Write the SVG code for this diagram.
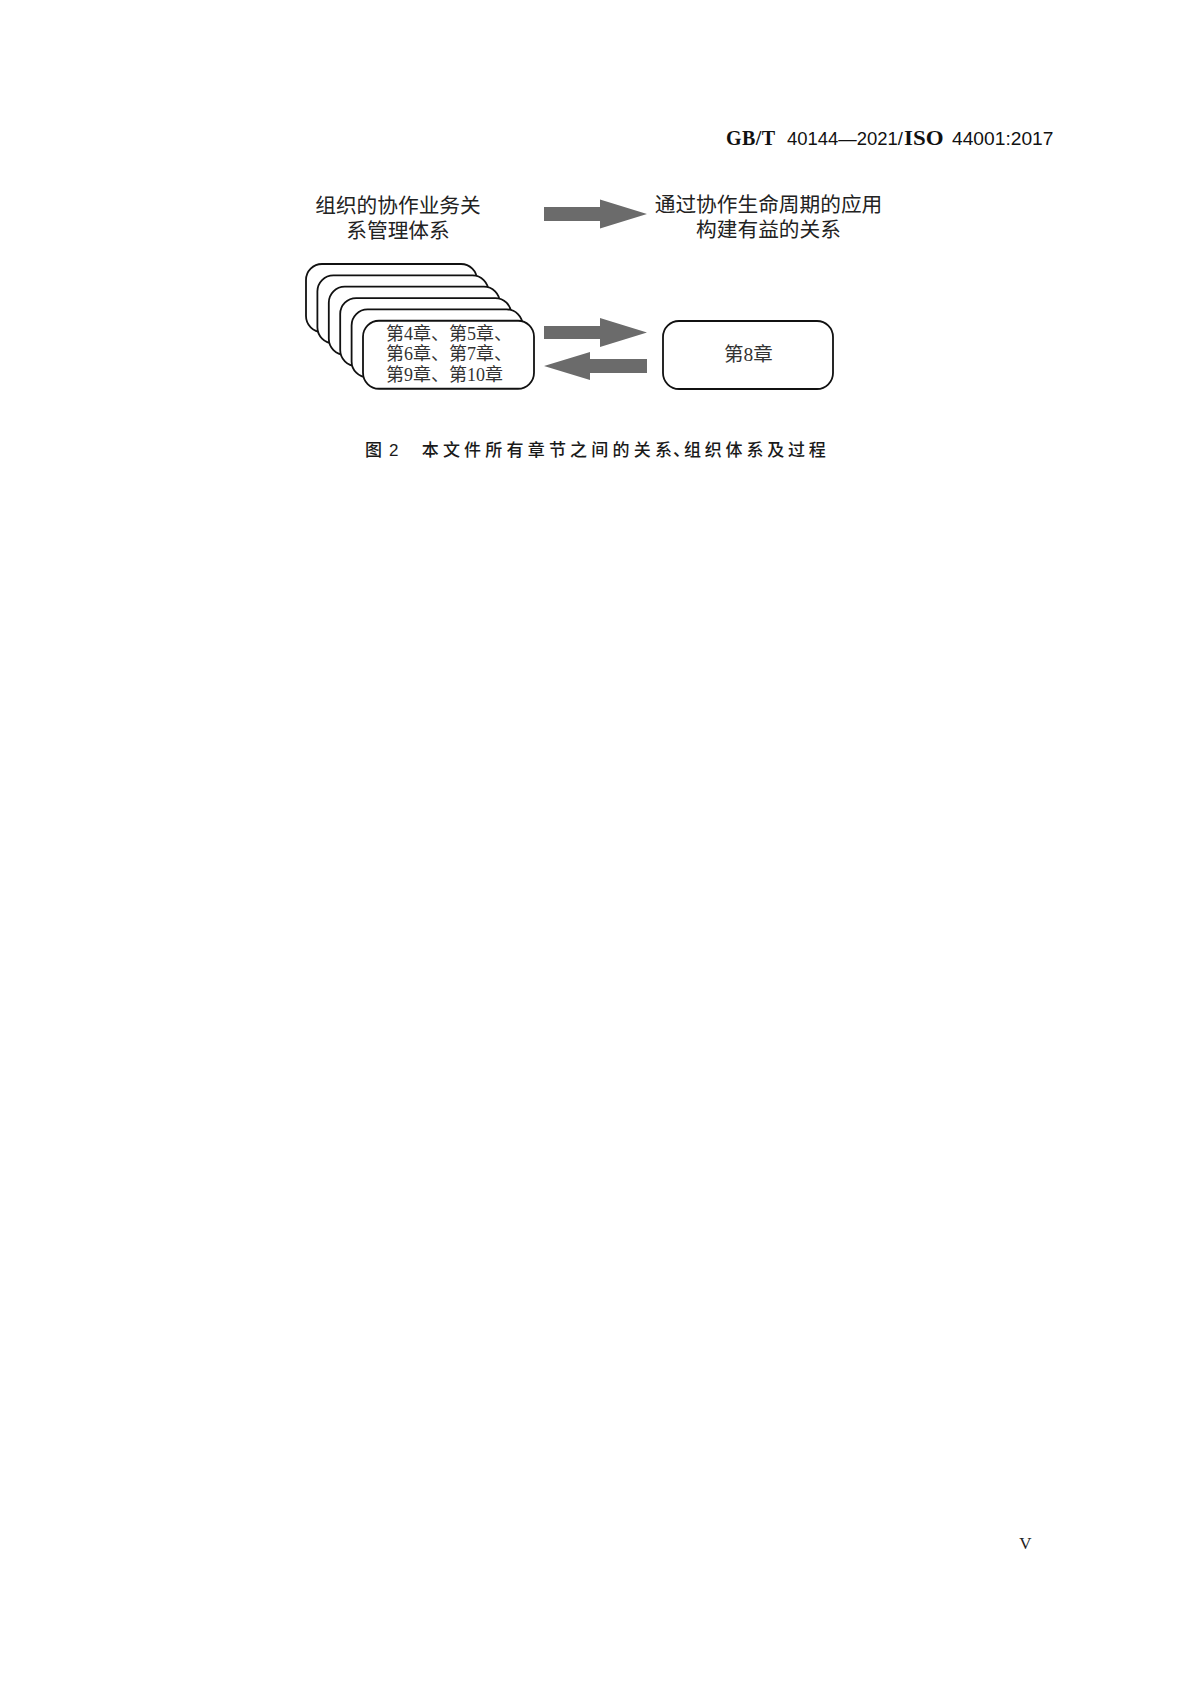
<svg xmlns="http://www.w3.org/2000/svg" width="1191" height="1684" viewBox="0 0 1191 1684">
<style>
.bg{fill:#ffffff}
.box{fill:#ffffff;stroke:#111111;stroke-width:1.8}
.arrow{fill:#6b6b6b;stroke:none}
.cjk{font-family:"Liberation Sans","Noto Sans CJK SC",sans-serif;fill:#222222}
.mix{font-family:"Liberation Serif","Noto Sans CJK SC",serif;fill:#333333}
.lbl{font-size:20.7px;text-anchor:middle}
.cap{font-family:"Liberation Sans","Noto Sans CJK SC",sans-serif;font-size:17px;font-weight:500;fill:#1a1a1a}
.hdrB{font-family:"Liberation Serif",serif;font-weight:bold;font-size:20px;fill:#111111}
.hdrN{font-family:"Liberation Sans",sans-serif;font-size:19px;fill:#111111}
</style>
<rect class="bg" x="0" y="0" width="1191" height="1684"/>

<g id="header">
<text class="hdrB" x="726" y="145" textLength="49" lengthAdjust="spacing">GB/T</text>
<text class="hdrN" x="787" y="145" textLength="116" lengthAdjust="spacingAndGlyphs">40144—2021/</text>
<text class="hdrB" x="904" y="145" textLength="39.5" lengthAdjust="spacingAndGlyphs">ISO</text>
<text class="hdrN" x="952" y="145" textLength="101.5" lengthAdjust="spacingAndGlyphs">44001:2017</text>
</g>

<g id="label-org-system">
<text class="cjk lbl" x="398" y="212.5">组织的协作业务关</text>
<text class="cjk lbl" x="398" y="237.5">系管理体系</text>
</g>

<g id="label-lifecycle">
<text class="cjk lbl" x="768.5" y="212">通过协作生命周期的应用</text>
<text class="cjk lbl" x="768.5" y="237">构建有益的关系</text>
</g>

<g id="node-chapters-stack">
<rect class="box" x="306" y="264" width="171" height="68" rx="16" ry="16"/>
<rect class="box" x="317.4" y="275.35" width="171" height="68" rx="16" ry="16"/>
<rect class="box" x="328.8" y="286.7" width="171" height="68" rx="16" ry="16"/>
<rect class="box" x="340.2" y="298.05" width="171" height="68" rx="16" ry="16"/>
<rect class="box" x="351.6" y="309.4" width="171" height="68" rx="16" ry="16"/>
<rect class="box" x="363" y="320.75" width="171" height="68" rx="16" ry="16"/>
<text class="mix" font-size="18" x="386" y="339.5">第4章、第5章、</text>
<text class="mix" font-size="18" x="386" y="360">第6章、第7章、</text>
<text class="mix" font-size="18" x="386" y="380.5">第9章、第10章</text>
</g>

<g id="node-chapter8">
<rect class="box" x="663" y="321" width="170" height="68" rx="16" ry="16"/>
<text class="mix" font-size="19.5" x="748.5" y="361" text-anchor="middle">第8章</text>
</g>

<g id="connectors">
<polygon class="arrow" points="544,207 600,207 600,199.5 647,214 600,228.5 600,221 544,221"/>
<polygon class="arrow" points="544,326 600,326 600,318 647,332.5 600,347 600,339 544,339"/>
<polygon class="arrow" points="647,359 590,359 590,352 544,366 590,380 590,373 647,373"/>
</g>

<g id="caption">
<text class="cap" x="365" y="456">图</text>
<text class="cap" x="389" y="456">2</text>
<text class="cap" y="456" x="421.7 442.9 464.1 485.3 506.5 527.7 548.9 570.1 591.3 612.5 633.7 654.9 673 684 704.8 725.6 746.4 767.2 788 808.8">本文件所有章节之间的关系、组织体系及过程</text>
</g>

<g id="page-number">
<text x="1025.5" y="1549" font-family="Liberation Serif, serif" font-size="17" text-anchor="middle" fill="#222222">V</text>
</g>
</svg>
